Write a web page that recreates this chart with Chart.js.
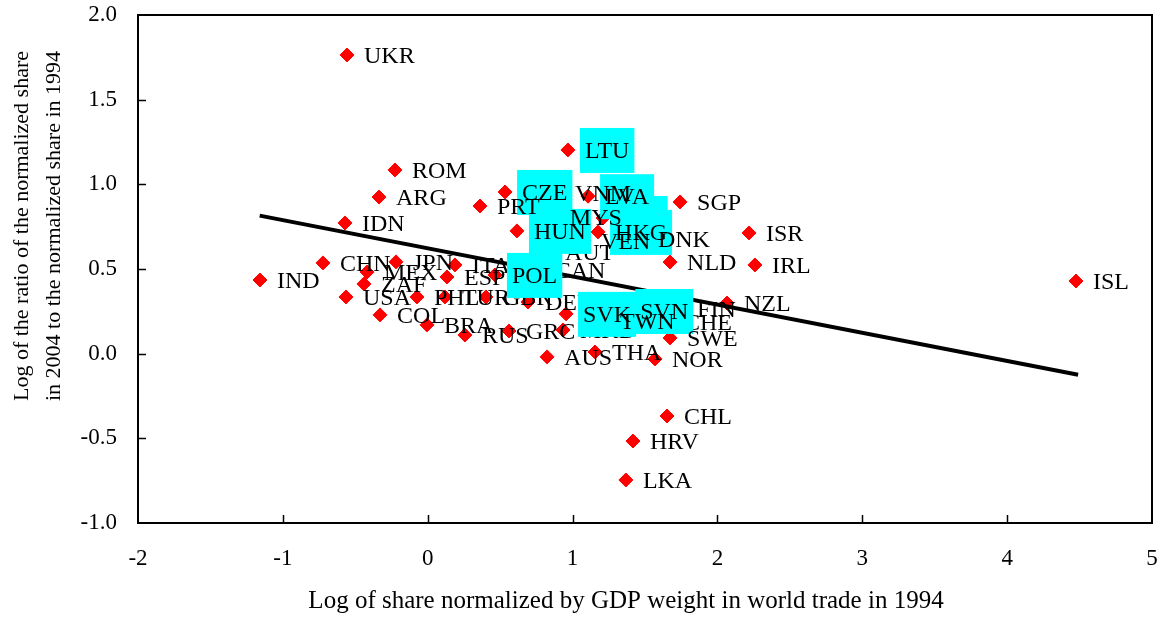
<!DOCTYPE html>
<html><head><meta charset="utf-8">
<script src="https://cdn.jsdelivr.net/npm/chart.js@4.4.0/dist/chart.umd.min.js"></script>
<style>html,body{margin:0;padding:0;background:#fff;}#wrap{width:1167px;height:617px;}</style>
</head><body><div id="wrap"><canvas id="c" width="1167" height="617"></canvas></div>
<script>
const countries = ['UKR','ROM','ARG','IDN','CHN','IND','JPN','MEX','ZAF','USA','COL','BRA','PHL','TUR','GBR','ITA','ESP','RUS','GRC','MKD','DEU','CAN','AUT','POL','LTU','CZE','HUN','PRT','EST','HKG','LVA','VNM','MYS','VEN','DNK','SGP','NLD','ISR','IRL','ISL','FIN','CHE','SVK','SVN','TWN','NZL','SWE','NOR','THA','AUS','CHL','HRV','LKA'];
const xValues = [-0.557,-0.226,-0.336,-0.571,-0.723,-1.158,-0.219,-0.419,-0.440,-0.564,-0.329,-0.005,-0.074,0.119,0.402,0.188,0.133,0.257,0.561,0.934,0.692,0.759,0.830,0.464,0.968,0.534,0.616,0.361,1.210,1.176,1.107,0.900,0.864,1.079,1.472,1.742,1.673,2.218,2.259,4.475,1.742,1.652,0.955,1.350,1.210,2.066,1.673,1.569,1.155,0.824,1.652,1.417,1.368];
const yValues = [1.764,1.085,0.925,0.772,0.536,0.435,0.542,0.482,0.412,0.335,0.229,0.170,0.335,0.335,0.335,0.524,0.453,0.110,0.134,0.140,0.305,0.494,0.601,0.465,1.203,0.955,0.725,0.872,0.801,0.719,0.930,0.949,0.807,0.666,0.680,0.896,0.541,0.713,0.524,0.429,0.264,0.187,0.235,0.252,0.190,0.299,0.093,-0.031,0.010,-0.019,-0.368,-0.516,-0.746];
const boxedCountries = ['LTU','CZE','HUN','LVA','EST','HKG','POL','SVK','SVN'];
const fitX = [-1.16, 4.49];
const fitY = [0.815, -0.124];
const xTicks = [-2,-1,0,1,2,3,4,5];
const xTickLabels = ['-2','-1','0','1','2','3','4','5'];
const yTicks = [-1.0,-0.5,0.0,0.5,1.0,1.5,2.0];
const yTickLabels = ['-1.0','-0.5','0.0','0.5','1.0','1.5','2.0'];
const xTitle = 'Log of share normalized by GDP weight in world trade in 1994';
const yTitleLines = ['Log of the ratio of the normalized share','in 2004 to the normalized share in 1994'];

const FONT = '"Liberation Serif", "Times New Roman", serif';

const labelPlugin = {
  id: 'pointLabels',
  afterDatasetsDraw(chart) {
    const ctx = chart.ctx;
    const meta = chart.getDatasetMeta(1);
    ctx.save();
    ctx.font = '24px ' + FONT;
    ctx.textBaseline = 'alphabetic';
    ctx.textAlign = 'left';
    meta.data.forEach((pt, i) => {
      const label = countries[i];
      const w = ctx.measureText(label).width;
      const tx = pt.x + 17;
      if (boxedCountries.includes(label)) {
        ctx.fillStyle = '#00FFFF';
        ctx.fillRect(tx - 5, pt.y - 22, w + 10, 45);
      }
      ctx.fillStyle = '#000';
      ctx.fillText(label, tx, pt.y + 8);
    });
    ctx.restore();
  }
};

const framePlugin = {
  id: 'frame',
  afterDraw(chart) {
    const ctx = chart.ctx;
    const a = chart.chartArea;
    const xs = chart.scales.x, ys = chart.scales.y;
    ctx.save();
    ctx.strokeStyle = '#000';
    ctx.lineWidth = 2;
    ctx.strokeRect(a.left, a.top, a.right - a.left, a.bottom - a.top);
    ctx.lineWidth = 1.5;
    ctx.beginPath();
    xTicks.slice(1, -1).forEach(v => {
      const px = Math.round(xs.getPixelForValue(v)) + 0.5;
      ctx.moveTo(px, a.bottom); ctx.lineTo(px, a.bottom - 8);
    });
    yTicks.slice(1, -1).forEach(v => {
      const py = Math.round(ys.getPixelForValue(v)) + 0.5;
      ctx.moveTo(a.left, py); ctx.lineTo(a.left + 8, py);
    });
    ctx.stroke();
    ctx.fillStyle = '#000';
    ctx.textAlign = 'center';
    ctx.textBaseline = 'middle';
    ctx.font = '25px ' + FONT;
    ctx.fillText(xTitle, 626, 601);
    ctx.font = '22px ' + FONT;
    ctx.translate(0, 226);
    ctx.rotate(-Math.PI / 2);
    ctx.fillText(yTitleLines[0], 0, 22);
    ctx.fillText(yTitleLines[1], 0, 54);
    ctx.restore();
  }
};

new Chart(document.getElementById('c'), {
  type: 'scatter',
  data: {
    datasets: [
      {
        type: 'line',
        data: fitX.map((x, i) => ({x: x, y: fitY[i]})),
        borderColor: '#000',
        borderWidth: 4,
        pointRadius: 0,
        fill: false,
        order: 0
      },
      {
        data: xValues.map((x, i) => ({x: x, y: yValues[i]})),
        pointStyle: 'rectRot',
        pointRadius: 7,
        backgroundColor: '#FF0000',
        borderColor: '#FF0000',
        borderWidth: 1,
        order: 1
      }
    ]
  },
  options: {
    responsive: false,
    animation: false,
    devicePixelRatio: 1,
    layout: {padding: {left: 0, top: 15, right: 15, bottom: 0}},
    plugins: {legend: {display: false}, tooltip: {enabled: false}, title: {display: false}},
    scales: {
      x: {
        type: 'linear', min: -2, max: 5,
        afterBuildTicks: s => { s.ticks = xTicks.map(v => ({value: v})); },
        afterFit: s => { s.height = 94; s.paddingLeft = 0; s.paddingRight = 0; s.paddingTop = 0; s.paddingBottom = 0; },
        grid: {display: false, drawTicks: false},
        border: {display: false},
        ticks: {
          padding: 22, color: '#000', font: {family: FONT, size: 23},
          maxRotation: 0, autoSkip: false,
          callback: (v, i) => xTickLabels[i]
        }
      },
      y: {
        type: 'linear', min: -1, max: 2,
        afterBuildTicks: s => { s.ticks = yTicks.map(v => ({value: v})); },
        afterFit: s => { s.width = 138; s.paddingLeft = 0; s.paddingRight = 0; s.paddingTop = 0; s.paddingBottom = 0; },
        grid: {display: false, drawTicks: false},
        border: {display: false},
        ticks: {
          padding: 21, color: '#000', font: {family: FONT, size: 23},
          autoSkip: false,
          callback: (v, i) => yTickLabels[i]
        }
      }
    }
  },
  plugins: [labelPlugin, framePlugin]
});
</script>
</body></html>
